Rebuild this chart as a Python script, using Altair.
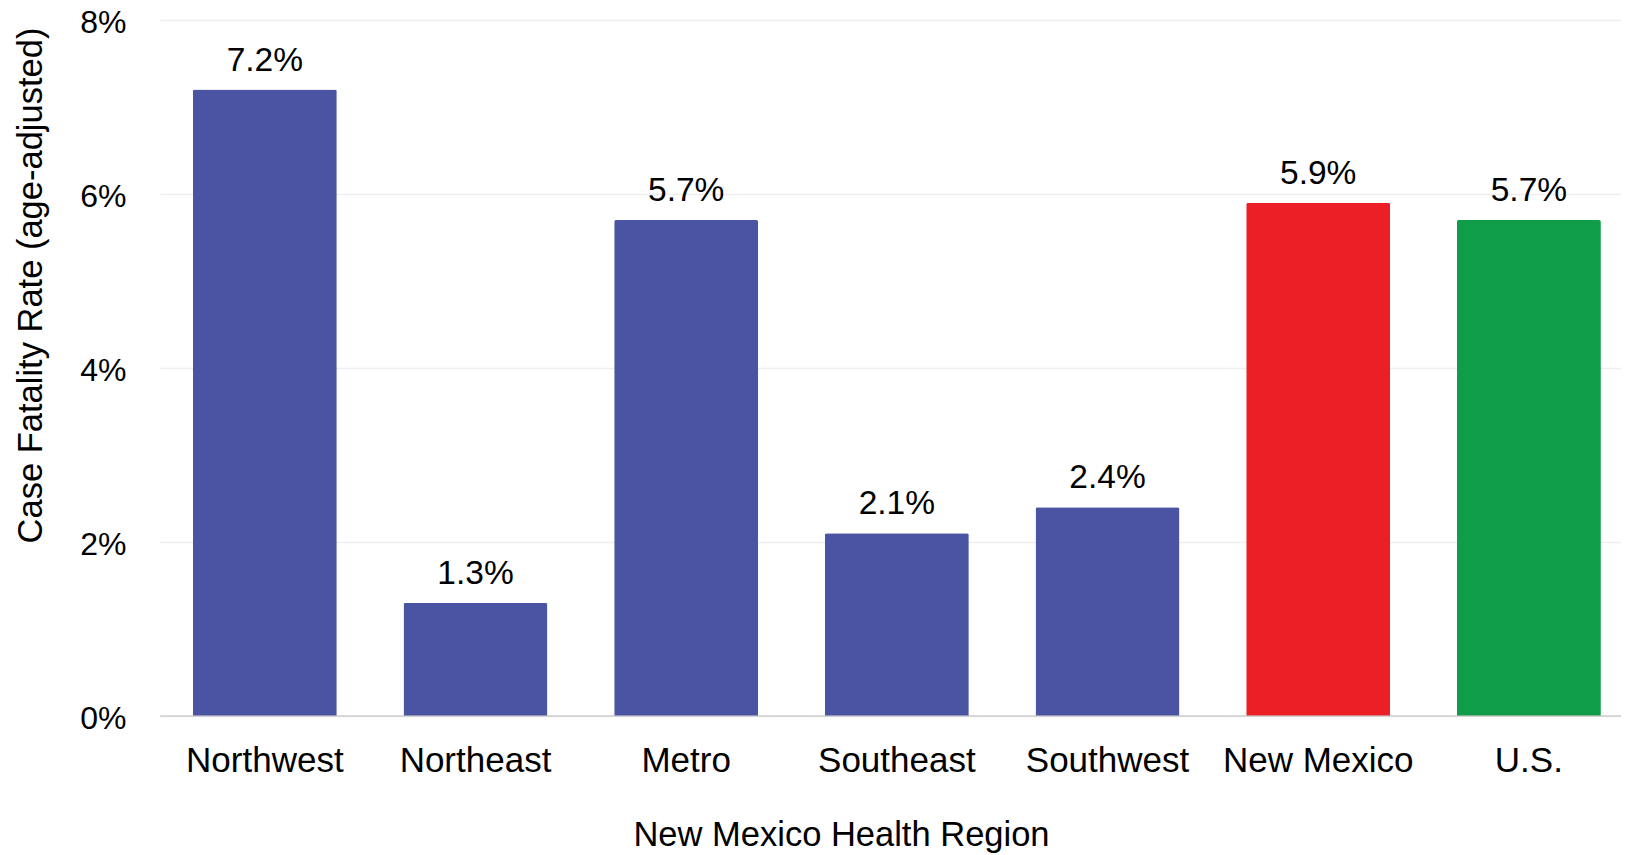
import altair as alt
import pandas as pd

regions = ["Northwest", "Northeast", "Metro", "Southeast", "Southwest", "New Mexico", "U.S."]
rates = [7.2, 1.3, 5.7, 2.1, 2.4, 5.9, 5.7]
colors = ["#4A54A3", "#4A54A3", "#4A54A3", "#4A54A3", "#4A54A3", "#EC1F26", "#0F9D49"]
y_ticks = [0, 2, 4, 6, 8]

df = pd.DataFrame({"region": regions, "rate": rates, "color": colors})

FONT = "Liberation Sans"
W = 1461
H = 696

x_enc = alt.X(
    "region:N",
    sort=regions,
    scale=alt.Scale(paddingInner=0.3165, paddingOuter=0.1257, align=0.62),
    axis=alt.Axis(
        title="New Mexico Health Region",
        labelAngle=0,
        labelFontSize=35,
        labelFont=FONT,
        labelColor="#000000",
        labelPadding=27,
        labelLimit=0,
        domain=False,
        ticks=False,
        grid=False,
        titleFontSize=34.5,
        titleFont=FONT,
        titleFontWeight="normal",
        titleColor="#000000",
        titleX=681,
        titleY=129,
        titleBaseline="alphabetic",
        titleAlign="center",
        titleAnchor="start",
    ),
)

y_enc = alt.Y(
    "rate:Q",
    scale=alt.Scale(domain=[0, 8], nice=False),
    axis=alt.Axis(
        title="Case Fatality Rate (age-adjusted)",
        values=y_ticks,
        labelExpr="datum.value + '%'",
        labelFontSize=32,
        labelFont=FONT,
        labelColor="#000000",
        labelPadding=34,
        labelOffset=2,
        domain=False,
        ticks=False,
        gridColor="#eeeeee",
        gridWidth=1.5,
        titleFontSize=34.5,
        titleFont=FONT,
        titleFontWeight="normal",
        titleColor="#000000",
        titleX=-119,
        titleY=265,
        titleBaseline="alphabetic",
        titleAlign="center",
        titleAnchor="start",
    ),
)

base = alt.Chart(df)

bars = base.mark_bar(cornerRadiusTopLeft=2, cornerRadiusTopRight=2).encode(
    x=x_enc,
    y=y_enc,
    color=alt.Color("color:N", scale=None, legend=None),
)

labels = base.transform_calculate(
    lab="format(datum.rate, '.1f') + '%'"
).mark_text(
    dy=-19, baseline="alphabetic", align="center", fontSize=33.5, font=FONT, color="#000000"
).encode(
    x=alt.X("region:N", sort=regions),
    y="rate:Q",
    text="lab:N",
)

zero = alt.Chart(pd.DataFrame({"z": [0]})).mark_rule(
    color="#c4c4c4", strokeWidth=2, opacity=0.6
).encode(y="z:Q", x=alt.value(0), x2=alt.value(W))

chart = (
    alt.layer(bars, zero, labels)
    .properties(
        width=W,
        height=H,
        background="white",
        autosize=alt.AutoSizeParams(type="none"),
        padding={"left": 152, "top": 12, "right": 0, "bottom": 139},
    )
    .configure_view(stroke="transparent", strokeWidth=0)
)

chart.save("out.html", embed_options={"renderer": "svg", "actions": False})
